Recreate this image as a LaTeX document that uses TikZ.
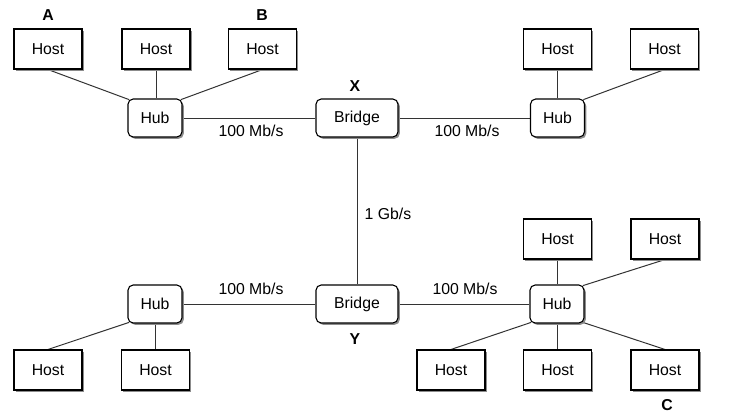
\documentclass[tikz,border=0pt]{standalone}
\usepackage{fontspec}
\setmainfont{Liberation Sans}
\usetikzlibrary{shadows,calc}
\pgfdeclarelayer{background}
\pgfsetlayers{background,main}
\begin{document}
\begin{tikzpicture}[x=0.5pt,y=-0.5pt,
  font=\fontsize{7.9pt}{9pt}\selectfont,
  box/.style={draw=black,line width=0.55pt,fill=white,inner sep=0pt,
    drop shadow={shadow xshift=0.9pt,shadow yshift=-0.9pt,fill=black!45,opacity=1}},
  hostbox/.style={box,minimum width=34pt,minimum height=20pt},
  hubbox/.style={box,rounded corners=2.6pt,minimum width=27pt,minimum height=19pt},
  bridgebox/.style={box,rounded corners=2.6pt,minimum width=41pt,minimum height=19pt},
  link/.style={draw=black!80,line width=0.5pt},
  tag/.style={font=\fontsize{7.9pt}{9pt}\selectfont\bfseries},
  rate/.style={inner sep=0pt}]
\useasboundingbox (0,0) rectangle (729,419);
% top-left
\node[hostbox] (h1) at (48,49) {Host};
\node[hostbox] (h2) at (156,49) {Host};
\node[hostbox] (h3) at (262.5,49) {Host};
\node[hubbox] (hubA) at (155,118) {Hub};
\node[tag] (lA) at (48,15) {A};
\node[tag] (lB) at (262,15) {B};
% bridge X
\node[bridgebox] (bx) at (357,118) {Bridge};
\node[tag] (lX) at (355,86) {X};
% top-right
\node[hostbox] (h4) at (557.5,49) {Host};
\node[hostbox] (h5) at (664.5,49) {Host};
\node[hubbox] (hubB) at (557.5,118) {Hub};
% bridge Y
\node[bridgebox] (by) at (357,304) {Bridge};
\node[tag] (lY) at (355,339) {Y};
% bottom-left
\node[hubbox] (hubC) at (155,304) {Hub};
\node[hostbox] (h6) at (48,370) {Host};
\node[hostbox] (h7) at (155.5,370) {Host};
% bottom-right
\node[hubbox] (hubD) at (557,304) {Hub};
\node[hostbox] (h8) at (557.5,239) {Host};
\node[hostbox] (h9) at (665,239) {Host};
\node[hostbox] (h10) at (451,370) {Host};
\node[hostbox] (h11) at (557.5,370) {Host};
\node[hostbox] (h12) at (665,370) {Host};
\node[tag] (lC) at (667,405) {C};
% rates
\node[rate] (r1) at (251,131) {100 Mb/s};
\node[rate] (r2) at (467,131) {100 Mb/s};
\node[rate] (r3) at (388,214) {1 Gb/s};
\node[rate] (r4) at (251,289) {100 Mb/s};
\node[rate] (r5) at (465,289) {100 Mb/s};
\begin{pgfonlayer}{background}
\path[link] (h1.south) -- ($(hubA.north west)!1pt!(hubA.center)$);
\path[link] (h2.south) -- (h2.south |- hubA.north);
\path[link] (h3.south) -- ($(hubA.north east)!1pt!(hubA.center)$);
\path[link] (hubA) -- (bx);
\path[link] (bx) -- (hubB);
\path[link] (h4.south) -- (h4.south |- hubB.north);
\path[link] (h5.south) -- ($(hubB.north east)!1pt!(hubB.center)$);
\path[link] (bx) -- (by);
\path[link] (hubC) -- (by);
\path[link] (by) -- (hubD);
\path[link] (h6.north) -- ($(hubC.south west)!1pt!(hubC.center)$);
\path[link] (h7.north) -- (h7.north |- hubC.south);
\path[link] (h8.south) -- (h8.south |- hubD.north);
\path[link] (h9.south) -- ($(hubD.north east)!1pt!(hubD.center)$);
\path[link] (h10.north) -- ($(hubD.south west)!1pt!(hubD.center)$);
\path[link] (h11.north) -- (h11.north |- hubD.south);
\path[link] (h12.north) -- ($(hubD.south east)!1pt!(hubD.center)$);
\end{pgfonlayer}
\end{tikzpicture}
\end{document}
